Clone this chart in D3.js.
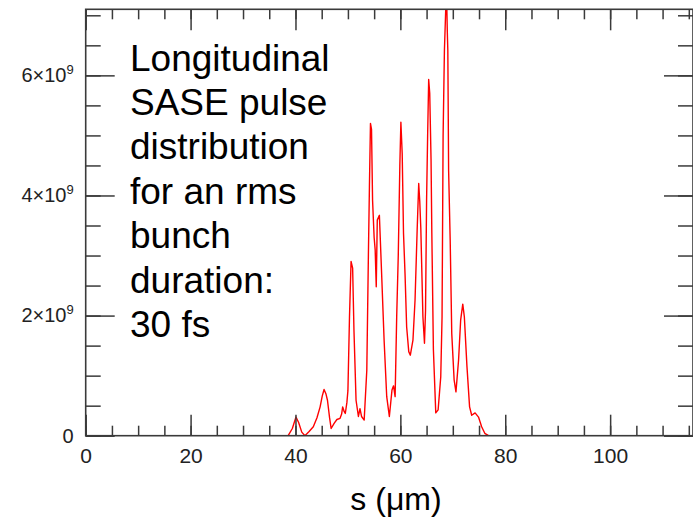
<!DOCTYPE html>
<html>
<head>
<meta charset="utf-8">
<script src="https://cdn.jsdelivr.net/npm/d3@7"></script>
<style>
  body { margin: 0; background: #fff; }
  svg { display: block; font-family: "Liberation Sans", Arial, sans-serif; }
</style>
</head>
<body>
<div id="viz"></div>
<script>
// s in um, power in units of 1e9
const sValues = [
  36.7, 38.6, 39.4, 40.1, 40.6, 41.2, 41.8, 42.6, 43.4, 44.1, 44.7, 45.1, 45.45, 45.8,
  46.1, 46.5, 46.8, 47.4, 47.9, 48.5, 48.8, 49.0, 49.3, 49.5, 49.8, 50.0, 50.3, 50.6,
  50.9, 51.15, 51.55, 52.0, 52.3, 52.6, 53.1, 53.6, 53.9, 54.1, 54.3, 54.5, 54.7, 55.0,
  55.2, 55.4, 55.6, 56.0, 56.4, 56.9, 57.4, 57.9, 58.4, 58.7, 59.0, 59.3, 59.6, 59.9,
  60.1, 60.35, 60.6, 60.9, 61.2, 61.6, 61.9, 62.4, 62.8, 63.2, 63.5, 63.7, 63.9, 64.3,
  64.6, 64.8, 65.0, 65.2, 65.4, 65.6, 65.85, 66.0, 66.3, 66.75, 67.2, 67.7, 67.95, 68.15,
  68.4, 68.65, 68.8, 68.95, 69.05, 69.2, 69.5, 69.8, 70.25, 70.6, 71.1, 71.5, 71.9, 72.2,
  72.7, 73.2, 73.6, 74.25, 74.9, 75.5, 76.1, 76.8, 77.4
];
const powerValues = [
  0, 0, 0.12, 0.31, 0.22, 0.06, 0, 0.07, 0.15, 0.3, 0.48, 0.66, 0.77, 0.7,
  0.59, 0.3, 0.12, 0.21, 0.27, 0.29, 0.36, 0.48, 0.4, 0.37, 0.55, 0.75, 1.98, 2.9,
  2.79, 1.76, 0.59, 0.32, 0.45, 0.32, 0.26, 1.09, 2.98, 4.14, 5.2, 5.1, 3.92, 3.3,
  3.09, 2.48, 3.59, 3.67, 2.76, 1.59, 0.65, 0.32, 0.76, 0.83, 0.65, 1.98, 3.0, 4.5,
  5.22, 4.7, 3.37, 2.67, 1.81, 1.4, 1.34, 1.59, 2.26, 3.42, 4.2, 3.9, 3.45, 1.98,
  1.54, 2.09, 3.92, 5.0, 5.93, 5.7, 4.6, 3.37, 1.43, 0.38, 0.43, 0.98, 1.98, 5.0,
  6.42, 7.1, 7.4, 6.73, 6.42, 4.42, 3.26, 1.7, 0.93, 0.73, 1.26, 1.93, 2.19, 1.98,
  1.15, 0.48, 0.34, 0.38, 0.31, 0.15, 0.04, 0, 0
];

const xMajorTicks = [0, 20, 40, 60, 80, 100];
const xMinorTicks = d3.range(0, 116, 5);
const yMajorTicks = [0, 2, 4, 6];
const yMinorTicks = d3.range(0, 7.1, 0.5);

const noteLines = ['Longitudinal', 'SASE pulse', 'distribution', 'for an rms', 'bunch', 'duration:', '30 fs'];
const xTitle = 's (\u03bcm)';

const width = 693, height = 522;
const plot = { left: 85.7, right: 693, top: 9.3, bottom: 435.7 };
const axisColor = '#3a3a3a';

const svg = d3.select('#viz').append('svg')
  .attr('width', width)
  .attr('height', height);

const x = d3.scaleLinear().domain([0, 115.8]).range([plot.left, plot.right]);
const y = d3.scaleLinear().domain([0, 7.1]).range([plot.bottom, plot.top]);

svg.append('clipPath').attr('id', 'clip')
  .append('rect')
  .attr('x', plot.left).attr('y', plot.top)
  .attr('width', plot.right - plot.left).attr('height', plot.bottom - plot.top);

// curve
const data = sValues.map((s, i) => ({ s, p: powerValues[i] }));
svg.append('path')
  .datum(data)
  .attr('clip-path', 'url(#clip)')
  .attr('fill', 'none')
  .attr('stroke', '#ff0000')
  .attr('stroke-width', 1.4)
  .attr('stroke-linejoin', 'round')
  .attr('d', d3.line().x(d => x(d.s)).y(d => y(d.p)));

// axes, ticks pointing inward
function drawAxis(axis, tx, ty, keepLabels) {
  const g = svg.append('g')
    .attr('transform', `translate(${tx},${ty})`)
    .call(axis);
  g.select('.domain').remove();
  g.selectAll('.tick line').attr('stroke', axisColor).attr('stroke-width', 1.5);
  if (!keepLabels) g.selectAll('.tick text').remove();
  return g;
}

drawAxis(d3.axisBottom(x).tickValues(xMinorTicks).tickSize(-10), 0, plot.bottom, false);
drawAxis(d3.axisTop(x).tickValues(xMinorTicks).tickSize(-10), 0, plot.top, false);
drawAxis(d3.axisTop(x).tickValues(xMajorTicks).tickSize(-21), 0, plot.top, false);
const xAxis = drawAxis(d3.axisBottom(x).tickValues(xMajorTicks).tickSize(-21).tickPadding(12), 0, plot.bottom, true);
xAxis.selectAll('.tick text')
  .attr('font-size', 21)
  .attr('font-family', '"Liberation Sans", Arial, sans-serif')
  .attr('fill', '#222');

drawAxis(d3.axisLeft(y).tickValues(yMinorTicks).tickSize(-15), plot.left, 0, false);
drawAxis(d3.axisRight(y).tickValues(yMinorTicks).tickSize(-15), plot.right, 0, false);
drawAxis(d3.axisRight(y).tickValues(yMajorTicks).tickSize(-29), plot.right, 0, false);
const yAxis = drawAxis(d3.axisLeft(y).tickValues(yMajorTicks).tickSize(-29).tickPadding(12), plot.left, 0, true);
yAxis.selectAll('.tick text')
  .attr('font-size', 20)
  .attr('font-family', '"Liberation Sans", Arial, sans-serif')
  .attr('fill', '#222')
  .each(function(d) {
    const t = d3.select(this);
    if (d === 0) return;
    t.text(`${d}\u00d710`);
    t.append('tspan').attr('font-size', 13).attr('dy', '-0.62em').text('9');
  });

// frame
svg.append('rect')
  .attr('x', plot.left).attr('y', plot.top)
  .attr('width', plot.right - plot.left).attr('height', plot.bottom - plot.top)
  .attr('fill', 'none')
  .attr('stroke', axisColor)
  .attr('stroke-width', 1.6);

// axis title
svg.append('text')
  .attr('x', 396).attr('y', 510)
  .attr('text-anchor', 'middle')
  .attr('font-size', 32)
  .attr('fill', '#000')
  .text(xTitle);

// annotation block
svg.append('g').selectAll('text')
  .data(noteLines)
  .join('text')
  .attr('x', 130)
  .attr('y', (d, i) => 70.5 + i * 44.4)
  .attr('font-size', 37)
  .attr('fill', '#000')
  .text(d => d);
</script>
</body>
</html>
